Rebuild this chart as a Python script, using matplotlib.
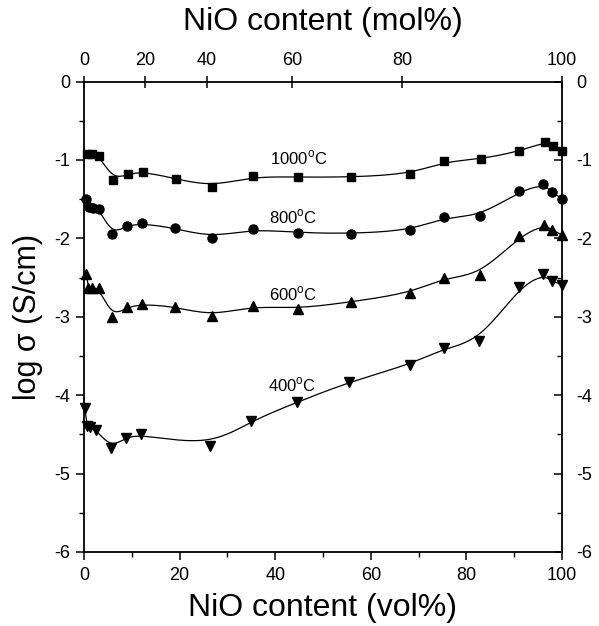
import matplotlib
matplotlib.use("Agg")
import matplotlib.pyplot as plt
import numpy as np

plt.rcParams["font.family"] = ["Liberation Sans", "DejaVu Sans"]
plt.rcParams["mathtext.fontset"] = "custom"
plt.rcParams["mathtext.rm"] = "Liberation Sans"

# NiO content (vol%) and log conductivity (S/cm)
vol_1000 = [0.6, 1.6, 3.2, 6.1, 9.3, 12.4, 19.2, 26.8, 35.3, 44.7, 55.9, 68.3, 75.4, 83.0, 91.1, 96.4, 98.2, 100.0]
log_1000 = [-0.92, -0.93, -0.95, -1.25, -1.18, -1.15, -1.24, -1.34, -1.21, -1.22, -1.22, -1.18, -1.02, -0.99, -0.89, -0.77, -0.82, -0.88]

vol_800 = [0.4, 1.1, 1.9, 3.2, 5.9, 8.9, 12.2, 19.0, 26.8, 35.3, 44.7, 55.9, 68.3, 75.4, 82.8, 91.1, 96.1, 98.0, 100.0]
log_800 = [-1.50, -1.60, -1.61, -1.63, -1.95, -1.84, -1.81, -1.87, -1.99, -1.88, -1.93, -1.94, -1.90, -1.73, -1.72, -1.40, -1.31, -1.41, -1.50]

vol_600 = [0.5, 0.9, 1.6, 3.1, 5.9, 8.9, 12.2, 19.0, 26.7, 35.3, 44.7, 55.8, 68.2, 75.4, 82.8, 91.1, 96.3, 98.0, 100.0]
log_600 = [-2.46, -2.63, -2.63, -2.63, -3.00, -2.88, -2.84, -2.87, -2.99, -2.86, -2.90, -2.81, -2.70, -2.50, -2.47, -1.97, -1.83, -1.89, -1.96]

vol_400 = [0.2, 0.6, 1.3, 2.5, 5.6, 8.8, 11.9, 26.3, 34.9, 44.6, 55.5, 68.2, 75.4, 82.7, 91.1, 96.1, 98.0, 100.0]
log_400 = [-4.16, -4.39, -4.41, -4.44, -4.67, -4.54, -4.50, -4.65, -4.33, -4.09, -3.83, -3.61, -3.40, -3.31, -2.62, -2.46, -2.55, -2.59]

series = [
    (vol_1000, log_1000, "s", 6.0, "1000$^\\mathregular{o}$C", (45.0, -0.97)),
    (vol_800, log_800, "o", 6.5, "800$^\\mathregular{o}$C", (43.7, -1.73)),
    (vol_600, log_600, "^", 7.0, "600$^\\mathregular{o}$C", (43.7, -2.71)),
    (vol_400, log_400, "v", 7.0, "400$^\\mathregular{o}$C", (43.5, -3.87)),
]

# top axis: mol% labels and where they sit on the vol% scale
mol_labels = ["0", "20", "40", "60", "80", "100"]
mol_tick_vol = [0, 12.8, 25.7, 43.6, 66.5, 100]


def bspline(x, y, n=25):
    """Uniform cubic B-spline with data points as control points (Origin style)."""
    p = np.column_stack([x, y]).astype(float)
    p = np.vstack([p[0], p[0], p, p[-1], p[-1]])
    t = np.linspace(0, 1, n)[:, None]
    b0 = (1 - t) ** 3 / 6
    b1 = (3 * t**3 - 6 * t**2 + 4) / 6
    b2 = (-3 * t**3 + 3 * t**2 + 3 * t + 1) / 6
    b3 = t**3 / 6
    segs = []
    for i in range(len(p) - 3):
        segs.append(b0 * p[i] + b1 * p[i + 1] + b2 * p[i + 2] + b3 * p[i + 3])
    out = np.vstack(segs)
    return out[:, 0], out[:, 1]


fig = plt.figure(figsize=(5.99, 6.26), dpi=100)
ax = fig.add_axes([84 / 599, 1 - 552 / 626, 478 / 599, 470.5 / 626])

for vx, vy, mk, ms, label, pos in series:
    sx, sy = bspline(vx, vy)
    ax.plot(sx, sy, color="k", lw=0.9, clip_on=False, zorder=2)
    ax.plot(vx, vy, ls="none", marker=mk, ms=ms, color="k", clip_on=False, zorder=3)
    ax.text(pos[0], pos[1], label, fontsize=12, ha="center", va="center")

ax.set_xlim(0, 100)
ax.set_ylim(-6, 0)
ax.set_xticks(np.arange(0, 101, 20))
ax.set_xticks(np.arange(10, 100, 20), minor=True)
ax.set_yticks(np.arange(-6, 0.1, 1))
ax.set_yticks(np.arange(-5.5, 0, 1), minor=True)
ax.set_yticklabels([f"{v:d}" for v in range(-6, 1)])

for s in ax.spines.values():
    s.set_linewidth(1.3)

ax.tick_params(axis="x", which="major", direction="out", length=6, width=1.1, labelsize=13, pad=5)
ax.tick_params(axis="x", which="minor", direction="out", length=3.5, width=1.0)
ax.tick_params(axis="y", which="major", direction="out", length=6, width=1.1, labelsize=13, pad=4,
               right=True, labelright=True)
ax.tick_params(axis="y", which="minor", direction="out", length=3.5, width=1.0, right=True)
# right-hand ticks point into the plot
for t in ax.yaxis.get_major_ticks() + ax.yaxis.get_minor_ticks():
    t.tick2line.set_marker(matplotlib.lines.TICKLEFT)

ax.set_xlabel("NiO content (vol%)", fontsize=23, labelpad=6)
ax.set_ylabel("log \u03c3 (S/cm)", fontsize=22, labelpad=8)

top = ax.twiny()
top.set_xlim(ax.get_xlim())
top.set_xticks(mol_tick_vol)
top.set_xticklabels(mol_labels)
top.tick_params(axis="x", direction="inout", length=8, width=1.1, labelsize=13, pad=5)
for s in top.spines.values():
    s.set_visible(False)
top.set_xlabel("NiO content (mol%)", fontsize=23, labelpad=16)

fig.savefig("out.png", dpi=100)
